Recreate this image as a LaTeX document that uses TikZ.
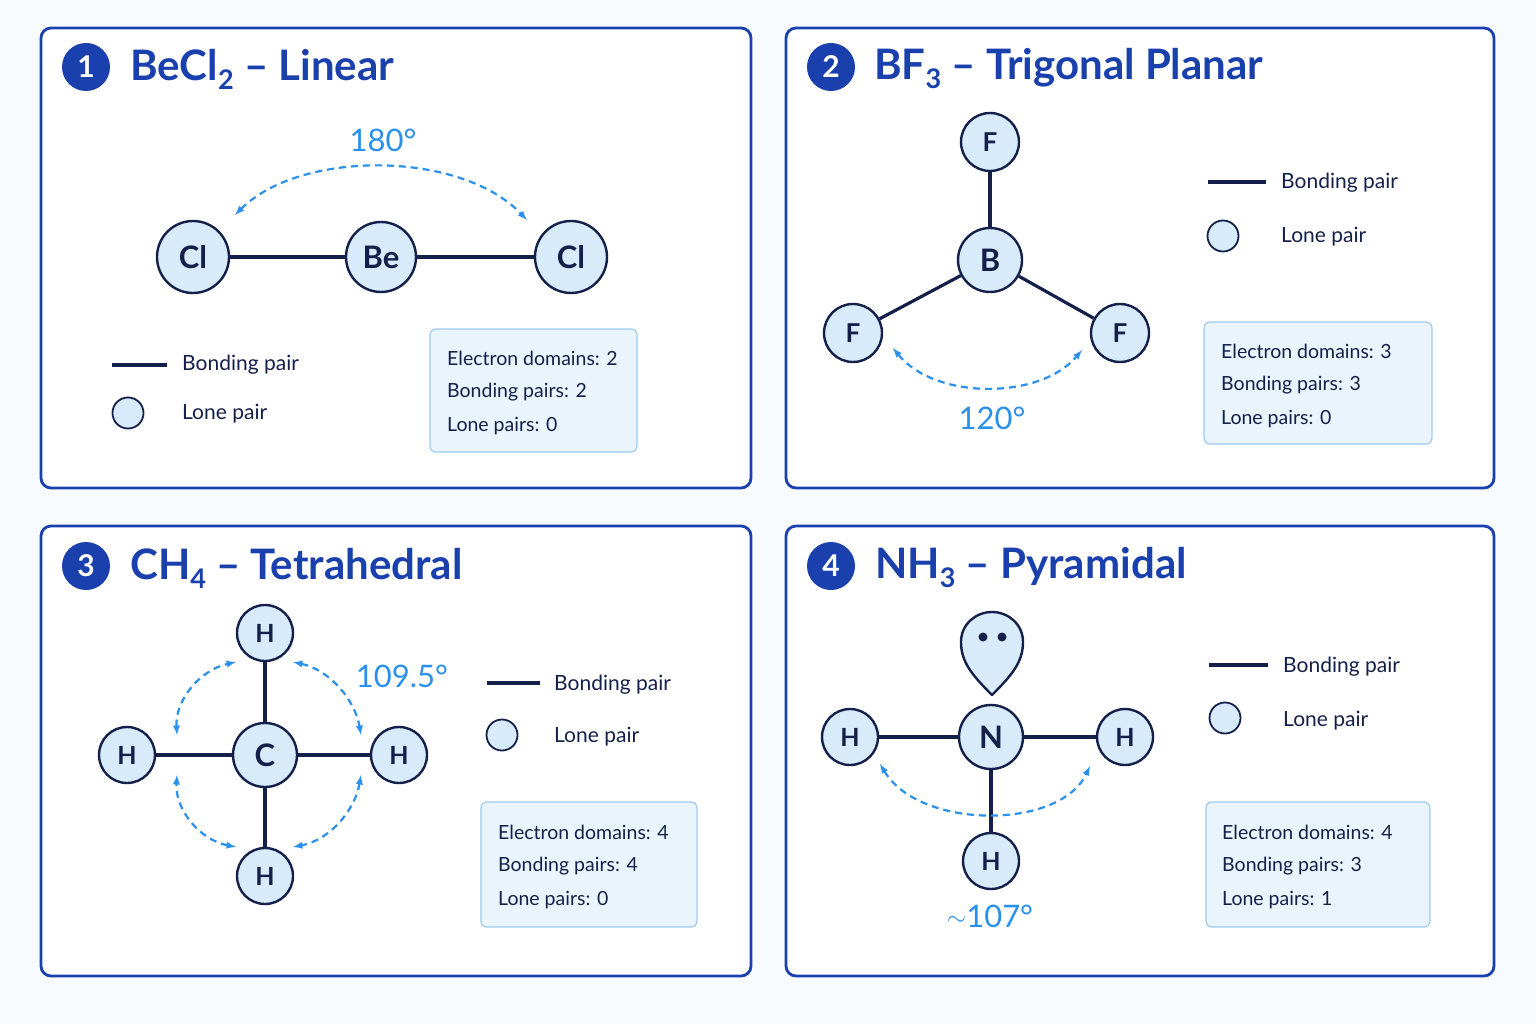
\documentclass[tikz,border=0pt]{standalone}
\usepackage{fontspec}
\setmainfont{Lato}
\begin{document}
\begin{tikzpicture}[x=1pt,y=-1pt,
  panel/.style={draw=ttl,line width=2.8pt,rounded corners=10pt,fill=white},
  badge/.style={circle,fill=ttl,text=white,minimum size=48pt,inner sep=0pt,font=\fontsize{30}{30}\selectfont\bfseries},
  ttlt/.style={anchor=west,text=ttl,font=\fontsize{42}{42}\selectfont\bfseries,inner sep=0pt},
  atom/.style={circle,draw=navy,line width=2.4pt,fill=atomf,text=navy,inner sep=0pt,font=\fontsize{31}{31}\selectfont\bfseries},
  hatom/.style={atom,minimum size=56pt,font=\fontsize{25}{25}\selectfont\bfseries},
  bond/.style={draw=navy,line width=3.2pt},
  angarr/.style={draw=arr,line width=2.2pt,dashed,dash pattern=on 7pt off 5pt,<->,>={latex}},
  angl/.style={text=arr,font=\fontsize{31}{31}\selectfont},
  leg/.style={anchor=west,text=navy,font=\fontsize{21}{21}\selectfont,inner sep=0pt},
  legc/.style={circle,draw=navy,line width=1.8pt,fill=atomf,minimum size=31pt,inner sep=0pt},
  info/.style={draw=boxb,line width=1.2pt,rounded corners=6pt,fill=boxf},
  infot/.style={anchor=west,text=navy,font=\fontsize{19.5}{19.5}\selectfont,inner sep=0pt}]
\definecolor{ttl}{HTML}{1A40AE}
\definecolor{navy}{HTML}{14204A}
\definecolor{atomf}{HTML}{D8EBFA}
\definecolor{arr}{HTML}{2A90EE}
\definecolor{boxf}{HTML}{EAF4FD}
\definecolor{boxb}{HTML}{9FCAF0}
\definecolor{bg}{HTML}{F8FBFE}
\newcommand{\subn}[1]{{\fontsize{27}{27}\selectfont\raisebox{-9pt}{#1}}}
\fill[bg] (0,0) rectangle (1536,1024);
\useasboundingbox (0,0) rectangle (1536,1024);
% panels
\draw[panel] (41,28) rectangle (751,488);
\draw[panel] (786,28) rectangle (1494,488);
\draw[panel] (41,526) rectangle (751,976);
\draw[panel] (786,526) rectangle (1494,976);
% ===== Panel 1
\node[badge] (b1) at (86,67) {1};
\node[ttlt] (t1) at (130,69) {BeCl\subn{2} – Linear};
\node[atom,minimum size=72pt] (cl1) at (193,257) {Cl};
\node[atom,minimum size=70pt] (be) at (381,257) {Be};
\node[atom,minimum size=72pt] (cl2) at (571,257) {Cl};
\draw[bond] (cl1) -- (be); \draw[bond] (be) -- (cl2);
\draw[angarr] (235,215) .. controls (300,150) and (460,150) .. (527,220);
\node[angl] (a1) at (383,140) {180°};
\coordinate (l1a) at (112,365); \coordinate (l1b) at (167,365);
\draw[bond] (l1a) -- (l1b);
\node[leg] (lt1) at (182,365) {Bonding pair};
\node[legc] (lc1) at (128,413) {};
\node[leg] (lp1) at (182,414) {Lone pair};
\draw[info] (430,329) rectangle (637,452);
\node[infot] (i1a) at (447,358) {Electron domains: 2};
\node[infot] (i1b) at (447,392) {Bonding pairs: 2};
\node[infot] (i1c) at (447,426) {Lone pairs: 0};
% ===== Panel 2
\node[badge] (b2) at (831,67) {2};
\node[ttlt] (t2) at (874,69) {BF\subn{3} – Trigonal Planar};
\node[atom,minimum size=58pt,font=\fontsize{26}{26}\selectfont\bfseries] (ft) at (990,142) {F};
\node[atom,minimum size=64pt] (bb) at (990,260) {B};
\node[atom,minimum size=58pt,font=\fontsize{26}{26}\selectfont\bfseries] (fl) at (853,333) {F};
\node[atom,minimum size=58pt,font=\fontsize{26}{26}\selectfont\bfseries] (fr) at (1120,333) {F};
\draw[bond] (bb) -- (ft); \draw[bond] (bb) -- (fl); \draw[bond] (bb) -- (fr);
\draw[angarr] (893,348) .. controls (935,400) and (1040,400) .. (1082,350);
\node[angl] (a2) at (992,418) {120°};
\coordinate (l2a) at (1208,182); \coordinate (l2b) at (1266,182);
\draw[bond] (l2a) -- (l2b);
\node[leg] (lt2) at (1281,183) {Bonding pair};
\node[legc] (lc2) at (1223,236) {};
\node[leg] (lp2) at (1281,237) {Lone pair};
\draw[info] (1204,322) rectangle (1432,444);
\node[infot] (i2a) at (1221,351) {Electron domains: 3};
\node[infot] (i2b) at (1221,385) {Bonding pairs: 3};
\node[infot] (i2c) at (1221,419) {Lone pairs: 0};
% ===== Panel 3
\node[badge] (b3) at (86,566) {3};
\node[ttlt] (t3) at (130,568) {CH\subn{4} – Tetrahedral};
\node[hatom] (ht) at (265,633) {H};
\node[atom,minimum size=64pt] (cc) at (265,755) {C};
\node[hatom] (hl) at (127,755) {H};
\node[hatom] (hr) at (399,755) {H};
\node[hatom] (hb) at (265,876) {H};
\draw[bond] (cc) -- (ht); \draw[bond] (cc) -- (hl); \draw[bond] (cc) -- (hr); \draw[bond] (cc) -- (hb);
\draw[angarr] (177,735) .. controls (175,700) and (200,670) .. (236,662);
\draw[angarr] (293,662) .. controls (330,670) and (355,700) .. (361,735);
\draw[angarr] (361,775) .. controls (355,810) and (330,840) .. (293,847);
\draw[angarr] (236,847) .. controls (200,840) and (175,810) .. (177,775);
\node[angl] (a3) at (402,676) {109.5°};
\coordinate (l3a) at (487,683); \coordinate (l3b) at (540,683);
\draw[bond] (l3a) -- (l3b);
\node[leg] (lt3) at (554,685) {Bonding pair};
\node[legc] (lc3) at (502,735) {};
\node[leg] (lp3) at (554,737) {Lone pair};
\draw[info] (481,802) rectangle (697,927);
\node[infot] (i3a) at (498,832) {Electron domains: 4};
\node[infot] (i3b) at (498,866) {Bonding pairs: 4};
\node[infot] (i3c) at (498,900) {Lone pairs: 0};
% ===== Panel 4
\node[badge] (b4) at (831,566) {4};
\node[ttlt] (t4) at (875,568) {NH\subn{3} – Pyramidal};
\draw[draw=navy,line width=2.4pt,fill=atomf,line join=round] (992,695) .. controls (972,675) and (961,662) .. (961,642) .. controls (961,624) and (976,612) .. (992,612) .. controls (1008,612) and (1023,624) .. (1023,642) .. controls (1023,662) and (1012,675) .. (992,695) -- cycle;
\fill[navy] (983,637) circle (4.5); \fill[navy] (1002,637) circle (4.5);
\node[atom,minimum size=64pt] (nn) at (991,737) {N};
\node[hatom] (h4l) at (850,737) {H};
\node[hatom] (h4r) at (1125,737) {H};
\node[hatom] (h4b) at (991,861) {H};
\draw[bond] (nn) -- (h4l); \draw[bond] (nn) -- (h4r); \draw[bond] (nn) -- (h4b);
\draw[angarr] (880,764) .. controls (920,830) and (1060,830) .. (1090,766);
\node[angl] (a4) at (990,916) {\raisebox{2pt}{\fontsize{26}{26}\selectfont$\sim$}107°};
\coordinate (l4a) at (1209,665); \coordinate (l4b) at (1268,665);
\draw[bond] (l4a) -- (l4b);
\node[leg] (lt4) at (1283,667) {Bonding pair};
\node[legc] (lc4) at (1225,718) {};
\node[leg] (lp4) at (1283,721) {Lone pair};
\draw[info] (1206,802) rectangle (1430,927);
\node[infot] (i4a) at (1222,832) {Electron domains: 4};
\node[infot] (i4b) at (1222,866) {Bonding pairs: 3};
\node[infot] (i4c) at (1222,900) {Lone pairs: 1};
\end{tikzpicture}
\end{document}
